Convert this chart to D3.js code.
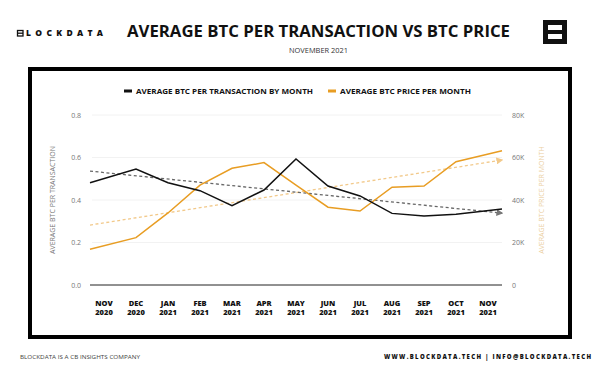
<!DOCTYPE html>
<meta charset="utf-8">
<style>
    body { margin: 0; background: #fff; }
    text { font-family: "Open Sans", "DejaVu Sans", sans-serif; }
    .tick-label { font-size: 7px; fill: #777; }
    .month { font-size: 7.5px; font-weight: 800; fill: #111; }
    .legend { font-size: 7px; font-weight: bold; fill: #111; }
    .grid line { stroke: #f2f2f2; stroke-width: 1px; }
</style>
<body>
<svg width="600" height="373"></svg>
</body>
<script src="https://d3js.org/d3.v7.min.js"></script>
<script>

    // data
    var months = ["NOV 2020", "DEC 2020", "JAN 2021", "FEB 2021", "MAR 2021", "APR 2021", "MAY 2021",
                  "JUN 2021", "JUL 2021", "AUG 2021", "SEP 2021", "OCT 2021", "NOV 2021"];
    var btcPerTx = [0.481, 0.546, 0.481, 0.444, 0.373, 0.447, 0.593, 0.466, 0.419, 0.337, 0.325, 0.333, 0.358];
    var btcPrice = [16800, 22300, 33900, 47000, 54900, 57600, 47000, 36600, 34800, 46000, 46600, 58000, 63200];
    var trendTx = [0.536, 0.338];          // trend line at first and last month
    var trendPrice = [28200, 58800];
    var leftTicks = [0, 0.2, 0.4, 0.6, 0.8];
    var rightTicks = [0, 20000, 40000, 60000, 80000];
    var rightTickLabels = ["0", "20K", "40K", "60K", "80K"];

    var svg = d3.select("svg");

    // ---- header
    var logo = svg.append("g").attr("transform", "translate(17,30)");
    logo.append("rect").attr("x", 0.5).attr("y", 0.5).attr("width", 5.5).attr("height", 5.5)
            .attr("fill", "none").attr("stroke", "#111").attr("stroke-width", 1.3);
    logo.append("line").attr("x1", 0.5).attr("x2", 6).attr("y1", 3.2).attr("y2", 3.2)
            .attr("stroke", "#111").attr("stroke-width", 1.3);
    logo.append("text").attr("x", 9).attr("y", 6.3)
            .attr("textLength", 77).attr("lengthAdjust", "spacing")
            .style("font-size", "8.5px").style("font-weight", "800").style("fill", "#111")
            .text("LOCKDATA");

    svg.append("text").attr("x", 127).attr("y", 36.5)
            .attr("textLength", 383).attr("lengthAdjust", "spacingAndGlyphs")
            .style("font-size", "15.5px").style("font-weight", "bold").style("fill", "#111")
            .text("AVERAGE BTC PER TRANSACTION VS BTC PRICE");

    svg.append("text").attr("x", 289).attr("y", 53)
            .attr("textLength", 59).attr("lengthAdjust", "spacingAndGlyphs")
            .style("font-size", "7px").style("fill", "#333")
            .text("NOVEMBER 2021");

    // the square icon top right
    var icon = svg.append("g").attr("transform", "translate(543,20)");
    icon.append("rect").attr("width", 24).attr("height", 24).attr("fill", "#111");
    icon.append("rect").attr("x", 5).attr("y", 5).attr("width", 14).attr("height", 5).attr("fill", "#fff");
    icon.append("rect").attr("x", 5).attr("y", 14).attr("width", 14).attr("height", 5).attr("fill", "#fff");

    // ---- frame
    svg.append("rect").attr("x", 30).attr("y", 69).attr("width", 540).attr("height", 268)
            .attr("fill", "none").attr("stroke", "#000").attr("stroke-width", 4);

    // ---- scales
    var plotLeft = 90, plotRight = 502, plotTop = 115, plotBottom = 285;

    var xLabel = d3.scalePoint().domain(months).range([104, 488]);
    // the original pins the first and last point to the plot edges
    var xLine = function (i) {
        if (i === 0) return plotLeft;
        if (i === months.length - 1) return plotRight;
        return xLabel(months[i]);
    };
    var yLeft = d3.scaleLinear().domain([0, 0.8]).range([plotBottom, plotTop]);
    var yRight = d3.scaleLinear().domain([0, 80000]).range([plotBottom, plotTop]);

    // ---- grid
    svg.append("g").attr("class", "grid")
            .selectAll("line").data(leftTicks.slice(1)).enter().append("line")
            .attr("x1", plotLeft + 2).attr("x2", plotRight)
            .attr("y1", function (d) { return yLeft(d); })
            .attr("y2", function (d) { return yLeft(d); });

    svg.append("line").attr("x1", plotLeft).attr("x2", plotRight)
            .attr("y1", yLeft(0)).attr("y2", yLeft(0))
            .attr("stroke", "#222").attr("stroke-width", 1);

    // left ticks
    svg.append("g").selectAll("text").data(leftTicks).enter().append("text")
            .attr("class", "tick-label")
            .attr("x", 81).attr("y", function (d) { return yLeft(d) + 2.5; })
            .style("text-anchor", "end")
            .text(function (d) { return d.toFixed(1); });

    // right ticks
    svg.append("g").selectAll("text").data(rightTicks).enter().append("text")
            .attr("class", "tick-label")
            .attr("x", 512).attr("y", function (d) { return yRight(d) + 2.5; })
            .text(function (d, i) { return rightTickLabels[i]; });

    // axis titles
    svg.append("text").attr("transform", "translate(55,200) rotate(-90)")
            .style("text-anchor", "middle").style("font-size", "7px").style("fill", "#777")
            .text("AVERAGE BTC PER TRANSACTION");
    svg.append("text").attr("transform", "translate(544,200) rotate(-90)")
            .style("text-anchor", "middle").style("font-size", "7px").style("fill", "#ebcf9f")
            .text("AVERAGE BTC PRICE PER MONTH");

    // month labels
    var monthG = svg.append("g").selectAll("text").data(months).enter().append("text")
            .attr("class", "month")
            .style("text-anchor", "middle")
            .attr("transform", function (d) { return "translate(" + xLabel(d) + ",305.5)"; });
    monthG.append("tspan").attr("x", 0).attr("y", 0).text(function (d) { return d.split(" ")[0]; });
    monthG.append("tspan").attr("x", 0).attr("y", 9).text(function (d) { return d.split(" ")[1]; });

    // ---- arrow markers for the trend lines
    var defs = svg.append("defs");
    [["arrowGrey", "#777"], ["arrowOrange", "#f2c98a"]].forEach(function (m) {
        defs.append("marker").attr("id", m[0])
                .attr("viewBox", "0 0 10 10").attr("refX", 8).attr("refY", 5)
                .attr("markerWidth", 7).attr("markerHeight", 7)
                .attr("markerUnits", "userSpaceOnUse")
                .attr("orient", "auto")
                .append("path").attr("d", "M0,0L10,5L0,10Z").attr("fill", m[1]);
    });

    var trendIdx = [0, months.length - 1];

    // trend lines
    svg.append("path")
            .datum(trendPrice)
            .attr("fill", "none").attr("stroke", "#f2c98a").attr("stroke-width", 1.3)
            .attr("stroke-dasharray", "3,2.5")
            .attr("marker-end", "url(#arrowOrange)")
            .attr("d", d3.line()
                    .x(function (d, i) { return xLine(trendIdx[i]); })
                    .y(function (d) { return yRight(d); }));

    svg.append("path")
            .datum(trendTx)
            .attr("fill", "none").attr("stroke", "#666").attr("stroke-width", 1.3)
            .attr("stroke-dasharray", "3,2.5")
            .attr("marker-end", "url(#arrowGrey)")
            .attr("d", d3.line()
                    .x(function (d, i) { return xLine(trendIdx[i]); })
                    .y(function (d) { return yLeft(d); }));

    // main series
    svg.append("path")
            .datum(btcPrice)
            .attr("fill", "none").attr("stroke", "#e89d23").attr("stroke-width", 1.5)
            .attr("d", d3.line()
                    .x(function (d, i) { return xLine(i); })
                    .y(function (d) { return yRight(d); }));

    svg.append("path")
            .datum(btcPerTx)
            .attr("fill", "none").attr("stroke", "#111").attr("stroke-width", 1.5)
            .attr("d", d3.line()
                    .x(function (d, i) { return xLine(i); })
                    .y(function (d) { return yLeft(d); }));

    // ---- legend
    var legend = [["AVERAGE BTC PER TRANSACTION BY MONTH", "#111", 124, 177],
                  ["AVERAGE BTC PRICE PER MONTH", "#e89d23", 328, 131]];
    var legendG = svg.append("g").selectAll("g").data(legend).enter().append("g")
            .attr("transform", function (d) { return "translate(" + d[2] + ",91)"; });
    legendG.append("rect").attr("x", 0).attr("y", -1.5).attr("width", 8).attr("height", 3)
            .attr("fill", function (d) { return d[1]; });
    legendG.append("text").attr("class", "legend").attr("x", 12).attr("y", 2.5)
            .attr("textLength", function (d) { return d[3]; })
            .attr("lengthAdjust", "spacingAndGlyphs")
            .text(function (d) { return d[0]; });

    // ---- footer
    svg.append("text").attr("x", 20).attr("y", 359)
            .attr("textLength", 120).attr("lengthAdjust", "spacingAndGlyphs")
            .style("font-size", "5.5px").style("fill", "#444")
            .text("BLOCKDATA IS A CB INSIGHTS COMPANY");
    svg.append("text").attr("x", 384).attr("y", 359)
            .attr("textLength", 207).attr("lengthAdjust", "spacing")
            .style("font-size", "6px").style("font-weight", "800").style("fill", "#111")
            .text("WWW.BLOCKDATA.TECH | INFO@BLOCKDATA.TECH");

</script>
